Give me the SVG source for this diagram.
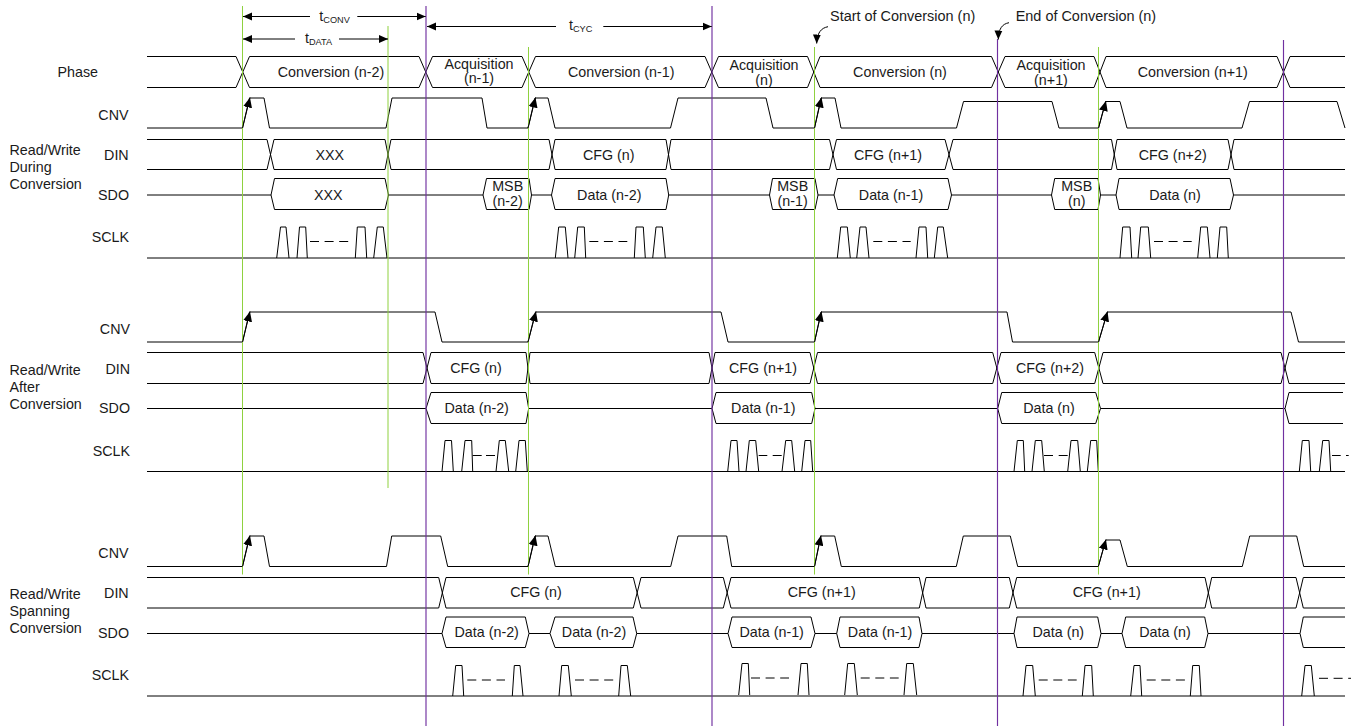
<svg xmlns="http://www.w3.org/2000/svg" width="1359" height="726" viewBox="0 0 1359 726">
<style>
text{font-family:"Liberation Sans",Arial,sans-serif;font-size:14.3px;fill:#1a1a1a}
.m{text-anchor:middle}.e{text-anchor:end}
.sub{font-size:9.2px}
.big{font-size:14.45px}
.w{fill:none;stroke:#000;stroke-width:1}
.g{fill:none;stroke:#8fd13f;stroke-width:1}
.p{fill:none;stroke:#7030a0;stroke-width:1.15}
.a{fill:none;stroke:#000;stroke-width:1}
</style>
<defs>
<marker id="ah" markerUnits="userSpaceOnUse" markerWidth="10" markerHeight="9" viewBox="0 0 10 9" refX="10" refY="4.5" orient="auto"><path d="M0 0L10 4.5L0 9Z" fill="#000"/></marker>
<marker id="ah2" markerUnits="userSpaceOnUse" markerWidth="10" markerHeight="9" viewBox="0 0 10 9" refX="9" refY="4.5" orient="auto-start-reverse"><path d="M0 0.5L9 4.5L0 8.5Z" fill="#000"/></marker>
</defs>
<rect width="1359" height="726" fill="#fff"/>

<g id="phase">
<text x="57.5" y="76.5">Phase</text>
<path class="w" d="M147 56.5H236L249.5 87.5H419L432.5 56.5H522L535.5 87.5H705L718.5 56.5H807.5L820 87.5H991.5L1005 56.5H1094L1106 87.5H1277L1290 56.5H1345"/>
<path class="w" d="M147 87.5H236L249.5 56.5H419L432.5 87.5H522L535.5 56.5H705L718.5 87.5H807.5L820 56.5H991.5L1005 87.5H1094L1106 56.5H1277L1290 87.5H1345"/>
<text class="m" x="331" y="76.5">Conversion (n-2)</text>
<text class="m" x="479" y="68.5">Acquisition</text><text class="m" x="479" y="83">(n-1)</text>
<text class="m" x="621.3" y="76.5">Conversion (n-1)</text>
<text class="m" x="764" y="70">Acquisition</text><text class="m" x="764" y="85">(n)</text>
<text class="m" x="900" y="76.5">Conversion (n)</text>
<text class="m" x="1051" y="70">Acquisition</text><text class="m" x="1051" y="85">(n+1)</text>
<text class="m" x="1192.7" y="76.5">Conversion (n+1)</text>
</g>

<g id="rw-during">
<text x="9.5" y="155">Read/Write</text><text x="9.5" y="172">During</text><text x="9.5" y="189">Conversion</text>
</g>
<g id="cnv-1">
<text class="e" x="128.5" y="119.5">CNV</text>
<path class="w" d="M147 128H242.5L249.5 98H264L269.5 128H386L392 98H482L487 128H528L535 98H548L555 128H670.5L678 98H766L773 128H814.5L821 98H835L841 128H956.5L963.5 101.5H1052L1059 128H1098.5L1105.5 101.5H1120L1127 128H1242L1249.5 101.5H1337L1345 128"/>
</g>
<g id="din-1">
<text class="e" x="128.7" y="160">DIN</text>
<path class="w" d="M147 139.5H267L274 169.5H385L391 139.5H549L555 169.5H666L671 139.5H829.5L836.5 169.5H945L953 139.5H1111.5L1117 169.5H1228L1234 139.5H1345"/>
<path class="w" d="M147 169.5H267L274 139.5H385L391 169.5H549L555 139.5H666L671 169.5H829.5L836.5 139.5H945L953 169.5H1111.5L1117 139.5H1228L1234 169.5H1345"/>
<text class="m" x="329.7" y="159.5">XXX</text>
<text class="m" x="608.7" y="160">CFG (n)</text>
<text class="m" x="888" y="160">CFG (n+1)</text>
<text class="m" x="1172.7" y="160">CFG (n+2)</text>
</g>
<g id="sdo-1">
<text class="e" x="129" y="199.5">SDO</text>
<path class="w" d="M147 195H271M388.5 195H483M531.5 195H551.5M668.7 195H769.5M818 195H834M951.5 195H1051.5M1100.5 195H1116M1233.5 195H1345"/>
<path class="w" d="M271 195L274.5 178.5H385L388.5 195L385 209.5H274.5Z"/>
<path class="w" d="M483 195L486.5 178.5H529L531.5 195L529 209.5H486.5Z"/>
<path class="w" d="M551.5 195L555 178.5H666L668.7 195L666 209.5H555Z"/>
<path class="w" d="M769.5 195L772.5 178.5H815L818 195L815 209.5H772.5Z"/>
<path class="w" d="M834 195L837.7 178.5H948L951.5 195L948 209.5H837.7Z"/>
<path class="w" d="M1051.5 195L1054.7 178.5H1098L1100.5 195L1098 209.5H1054.7Z"/>
<path class="w" d="M1116 195L1119 178.5H1230L1233.5 195L1230 209.5H1119Z"/>
<text class="m" x="328.3" y="200">XXX</text>
<text class="m" x="507.7" y="191">MSB</text><text class="m" x="507.7" y="206">(n-2)</text>
<text class="m" x="609.3" y="200">Data (n-2)</text>
<text class="m" x="792.7" y="191">MSB</text><text class="m" x="792.7" y="206">(n-1)</text>
<text class="m" x="891" y="200">Data (n-1)</text>
<text class="m" x="1076.7" y="191">MSB</text><text class="m" x="1076.7" y="206">(n)</text>
<text class="m" x="1175" y="200">Data (n)</text>
</g>
<g id="sclk-1">
<text class="e" x="129" y="242">SCLK</text>
<path class="w" d="M147 258H1345"/>
<path class="w" d="M276.7 258L280.5 227H286L289 258M297 258L299.5 227H305.7L307.3 258M355.3 258L357.3 227H365L366.7 258M373.7 258L377.3 227H383.3L387 258"/>
<path class="w" d="M555.3 258L558.7 227H565.3L568 258M574.7 258L577.7 227H584.3L585.7 258M634.3 258L636 227H643.3L645.3 258M652.7 258L656 227H662.3L665.3 258"/>
<path class="w" d="M837.3 258L840.7 227H847.3L850.3 258M856.7 258L860 227H866L869 258M916 258L919 227H926L927.7 258M934.3 258L937.7 227H943.3L947.7 258"/>
<path class="w" d="M1120 258L1122.7 227H1130L1131.7 258M1138 258L1140.7 227H1148.3L1150.7 258M1197.7 258L1200.7 227H1207.3L1210 258M1217.3 258L1220 227H1226.7L1228.3 258"/>
<path class="w" stroke-dasharray="9 5.6" d="M310 241.5H348.3M589.3 241.5H627.3M873.3 241.5H910.7M1154 241.5H1191.7"/>
</g>

<g id="rw-after">
<text x="9.5" y="375">Read/Write</text><text x="9.5" y="392">After</text><text x="9.5" y="409">Conversion</text>
</g>
<g id="cnv-2">
<text class="e" x="130" y="333.5">CNV</text>
<path class="w" d="M147 342H242.5L249.5 312H435L442 342H528L535.5 312H721L728 342H814.5L821 312H1007L1012.5 342H1098.5L1107.5 312H1291L1298.5 342H1345"/>
</g>
<g id="din-2">
<text class="e" x="130" y="374">DIN</text>
<path class="w" d="M147 352.5H423L431 383.5H526L530 352.5H709L715 383.5H810L817.5 352.5H992.7L1001 383.5H1094.7L1103 352.5H1281L1289 383.5H1345"/>
<path class="w" d="M147 383.5H423L431 352.5H526L530 383.5H709L715 352.5H810L817.5 383.5H992.7L1001 352.5H1094.7L1103 383.5H1281L1289 352.5H1345"/>
<text class="m" x="476" y="372.7">CFG (n)</text>
<text class="m" x="763" y="372.7">CFG (n+1)</text>
<text class="m" x="1050" y="372.7">CFG (n+2)</text>
</g>
<g id="sdo-2">
<text class="e" x="130" y="413">SDO</text>
<path class="w" d="M147 408.5H426M528.7 408.5H712M815 408.5H997.7M1100.5 408.5H1285"/>
<path class="w" d="M426 408.5L431 392.5H526L528.7 408.5L526 423.5H431Z"/>
<path class="w" d="M712 408.5L716 392.5H811.7L815 408.5L811.7 423.5H716Z"/>
<path class="w" d="M997.7 408.5L1001.7 392.5H1095.7L1100.5 408.5L1095.7 423.5H1001.7Z"/>
<path class="w" d="M1343 392.5H1289L1285 408.5L1289 423.5H1343"/>
<text class="m" x="476.7" y="413.3">Data (n-2)</text>
<text class="m" x="763.3" y="413.3">Data (n-1)</text>
<text class="m" x="1049" y="413.3">Data (n)</text>
</g>
<g id="sclk-2">
<text class="e" x="130" y="456">SCLK</text>
<path class="w" d="M147 471.5H1345"/>
<path class="w" d="M442 471.5L445 440.5H451.5L453.3 471.5M461.7 471.5L465 440.5H471.7L472.7 471.5M496 471.5L499.3 440.5H505.3L508.7 471.5M515.7 471.5L519 440.5H525.3L527.3 471.5"/>
<path class="w" d="M727.7 471.5L731 440.5H737L739 471.5M746 471.5L749.3 440.5H755.7L758.7 471.5M782 471.5L785.7 440.5H791.7L794.7 471.5M801.7 471.5L805 440.5H810.7L812.7 471.5"/>
<path class="w" d="M1014 471.5L1017.3 440.5H1023.3L1024.7 471.5M1032 471.5L1035.3 440.5H1041.7L1044.3 471.5M1067.7 471.5L1071 440.5H1077.7L1080.3 471.5M1087.3 471.5L1090.7 440.5H1096.7L1098.3 471.5"/>
<path class="w" d="M1299.3 471.5L1302.3 440.5H1309L1310.7 471.5M1319.3 471.5L1322.7 440.5H1329L1330.7 471.5"/>
<path class="w" d="M472.7 455.5H481.7M486 455.5H495M758.7 455.5H767.3M772.7 455.5H781.7M1044 455.5H1053M1058.7 455.5H1067.7M1332 455.5H1340.7M1346 455.5H1348.7"/>
</g>

<g id="rw-spanning">
<text x="9.5" y="599">Read/Write</text><text x="9.5" y="616">Spanning</text><text x="9.5" y="633">Conversion</text>
</g>
<g id="cnv-3">
<text class="e" x="128.5" y="557.5">CNV</text>
<path class="w" d="M147 566.5H242.5L249.5 536H264L269.5 566.5H386.5L391.7 536H440.7L447.7 566.5H528L535 536H548L555.3 566.5H670.7L678 536H726.7L731.7 566.5H814.5L820.7 536H834.7L841.3 566.5H956.3L963.3 536H1010.3L1017.7 566.5H1098.3L1105.7 540H1120L1127.3 566.5H1242.3L1249.7 536H1296.7L1303.7 566.5H1345"/>
</g>
<g id="din-3">
<text class="e" x="128.7" y="598">DIN</text>
<path class="w" d="M147 577.5H438.7L446 608H633.3L641 577.5H723.3L731 608H919.3L926 577.5H1009.3L1016.7 608H1205L1211.7 577.5H1296L1303.3 608H1345"/>
<path class="w" d="M147 608H438.7L446 577.5H633.3L641 608H723.3L731 577.5H919.3L926 608H1009.3L1016.7 577.5H1205L1211.7 608H1296L1303.3 577.5H1345"/>
<text class="m" x="536" y="596.7">CFG (n)</text>
<text class="m" x="821.7" y="596.7">CFG (n+1)</text>
<text class="m" x="1106.7" y="596.7">CFG (n+1)</text>
</g>
<g id="sdo-3">
<text class="e" x="129" y="637.5">SDO</text>
<path class="w" d="M147 633.5H442M529 633.5H550M636.7 633.5H728M815 633.5H836.7M922 633.5H1014M1101 633.5H1122M1208 633.5H1300"/>
<path class="w" d="M442 633.5L446 617H525.3L529 633.5L525.3 647.5H446Z"/>
<path class="w" d="M550 633.5L555 617H633L636.7 633.5L633 647.5H555Z"/>
<path class="w" d="M728 633.5L732 617H811L815 633.5L811 647.5H732Z"/>
<path class="w" d="M836.7 633.5L840 617H919L922 633.5L919 647.5H840Z"/>
<path class="w" d="M1014 633.5L1017 617H1097.7L1101 633.5L1097.7 647.5H1017Z"/>
<path class="w" d="M1122 633.5L1125.7 617H1204.7L1208 633.5L1204.7 647.5H1125.7Z"/>
<path class="w" d="M1345 617H1303.3L1300 633.5L1303.3 647.5H1345"/>
<text class="m" x="486.7" y="637.3">Data (n-2)</text>
<text class="m" x="594" y="637.3">Data (n-2)</text>
<text class="m" x="771.7" y="637.3">Data (n-1)</text>
<text class="m" x="880" y="637.3">Data (n-1)</text>
<text class="m" x="1058.3" y="637.3">Data (n)</text>
<text class="m" x="1165" y="637.3">Data (n)</text>
</g>
<g id="sclk-3">
<text class="e" x="129" y="680">SCLK</text>
<path class="w" d="M147 696H1345"/>
<path class="w" d="M452.7 696L455.7 665.5H462L463.7 696M512.3 696L514.3 665.5H520L523 696M559 696L561.7 665.5H568.3L571.3 696M618.7 696L621 665.5H627.3L630.7 696"/>
<path class="w" d="M738.7 695L742 663.5H748.3L749.7 695M798 695L801 663.5H807.3L809 695M844.7 695L847.7 663.5H854.3L857.3 695M904 695L906.7 663.5H913.3L916.7 695"/>
<path class="w" d="M1023 696L1026 665.5H1032.7L1035.3 696M1082.3 696L1085 665.5H1091.7L1093.3 696M1130.7 696L1134 665.5H1140L1141.7 696M1190.3 696L1192.7 665.5H1199.3L1201 696"/>
<path class="w" d="M1301.7 696L1305 665.5H1311.3L1314.3 696"/>
<path class="w" stroke-dasharray="9 5.6" d="M467.3 680H505M575 680H613.3M751 678H789M860.7 678H898.7M1038.7 680H1076.7M1146.7 680H1185M1319 678.3H1351"/>
</g>

<g id="connectors">
<path class="g" d="M242.5 6V574.5"/>
<path class="g" d="M388 26V488"/>
<path class="g" d="M528.5 47V574.5"/>
<path class="g" d="M814.5 47V574.5"/>
<path class="g" d="M1098.5 47V574.5"/>
<path class="p" d="M426 6V726"/>
<path class="p" d="M712 6V726"/>
<path class="p" d="M997.5 39V726"/>
<path class="p" d="M1283.5 40V726"/>

<path class="a" marker-end="url(#ah)" d="M242.5 128L250 97.5"/>
<path class="a" marker-end="url(#ah)" d="M528 128L535.5 97.5"/>
<path class="a" marker-end="url(#ah)" d="M814.5 128L821.5 97.5"/>
<path class="a" marker-end="url(#ah)" d="M1098.5 128L1106 101"/>
<path class="a" marker-end="url(#ah)" d="M242.5 342L250 311.5"/>
<path class="a" marker-end="url(#ah)" d="M528 342L536 311.5"/>
<path class="a" marker-end="url(#ah)" d="M814.5 342L821.5 311.5"/>
<path class="a" marker-end="url(#ah)" d="M1098.5 342L1107.5 311.5"/>
<path class="a" marker-end="url(#ah)" d="M242.5 566.5L250 535.5"/>
<path class="a" marker-end="url(#ah)" d="M528 566.5L535.5 535.5"/>
<path class="a" marker-end="url(#ah)" d="M814.5 566.5L821 535.5"/>
<path class="a" marker-end="url(#ah)" d="M1098.3 566.5L1106 539.5"/>

<path class="a" marker-start="url(#ah2)" d="M243 16.5H310"/>
<path class="a" marker-end="url(#ah2)" d="M357.3 16.5H425.7"/>
<path class="a" marker-start="url(#ah2)" d="M243 39H295"/>
<path class="a" marker-end="url(#ah2)" d="M339 39H388"/>
<path class="a" marker-start="url(#ah2)" d="M427 26.5H556"/>
<path class="a" marker-end="url(#ah2)" d="M603.3 26.5H711.7"/>
<path class="a" marker-end="url(#ah2)" d="M828 26.7C821 28 817 33 816.7 43.5"/>
<path class="a" marker-end="url(#ah2)" d="M1009 22.7C1002 24 998.5 29 998.3 39.5"/>
</g>

<g id="annotations">
<text x="319.3" y="20.7">t<tspan class="sub" dy="2">CONV</tspan></text>
<text x="305" y="42.7">t<tspan class="sub" dy="2">DATA</tspan></text>
<text x="569" y="30">t<tspan class="sub" dy="2">CYC</tspan></text>
<text class="big" x="830" y="20.5">Start of Conversion (n)</text>
<text class="big" x="1015.7" y="20.5">End of Conversion (n)</text>
</g>
</svg>
